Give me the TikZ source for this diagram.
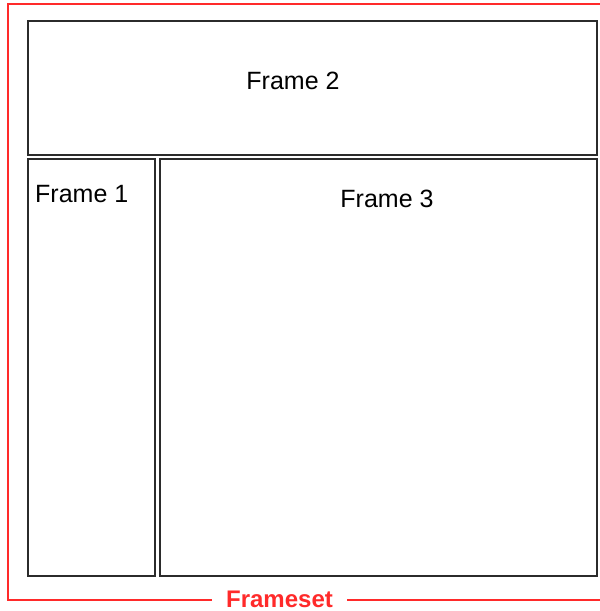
\documentclass[tikz,border=0pt]{standalone}
\usepackage{fontspec}
\setmainfont{Liberation Sans}
\usepackage{tikz}
\usetikzlibrary{positioning}
\definecolor{framered}{HTML}{FF2A2A}
\definecolor{framegray}{HTML}{2B2B2B}

\begin{document}
\begin{tikzpicture}[
  x=1pt, y=-1pt,
  framebox/.style={rectangle, draw=framegray, line width=1.5pt, anchor=north west, inner sep=0pt},
  framelabel/.style={inner sep=0pt, font=\fontsize{25}{29}\selectfont},
  setlabel/.style={inner ysep=0pt, inner xsep=14pt, text=framered, font=\fontsize{24}{28}\selectfont\bfseries},
  setline/.style={draw=framered, line width=1.4pt}
]
\useasboundingbox (0,0) rectangle (600,611);
\node[framebox, minimum width=569pt, minimum height=134pt] (f2) at (27,20) {};
\node[framebox, minimum width=127pt, minimum height=417pt] (f1) at (27,158) {};
\node[framebox, minimum width=437pt, minimum height=417pt] (f3) at (159,158) {};
\node[framelabel, anchor=base] (t2) at (293,89) {Frame 2};
\node[framelabel, anchor=base west] (t1) at (35,202) {Frame 1};
\node[framelabel, anchor=base] (t3) at (387,207) {Frame 3};
\node[setlabel, anchor=base] (fs) at (279.5,607) {Frameset};
\coordinate (bl) at (8,600);
\coordinate (br) at (600,600);
\draw[setline] (fs.west |- bl) -- (bl) -- (8,4) -- (600,4);
\draw[setline] (fs.east |- br) -- (br);
\end{tikzpicture}
\end{document}
